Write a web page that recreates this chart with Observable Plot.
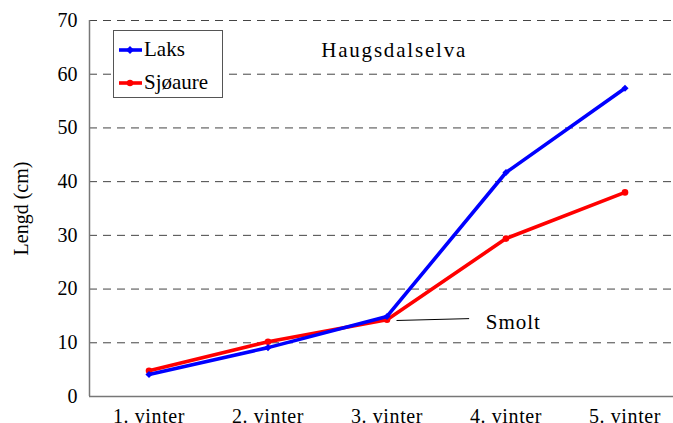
<!DOCTYPE html>
<html><head><meta charset="utf-8">
<script src="https://cdn.jsdelivr.net/npm/d3@7"></script>
<script src="https://cdn.jsdelivr.net/npm/@observablehq/plot@0.6"></script>
<style>
body{margin:0;background:#fff;}
#wrap{position:relative;width:673px;height:423px;overflow:hidden;font-family:"Liberation Serif","Times New Roman",serif;}
#legend{position:absolute;left:113px;top:30px;width:108px;height:66px;border:1px solid #555;background:#fff;font-family:"Liberation Serif","Times New Roman",serif;font-size:21px;line-height:21px;color:#000;}
#legend .row{position:absolute;left:5px;display:flex;align-items:center;}
#legend svg{margin-right:2px;}
</style></head>
<body><div id="wrap"><div id="chart"></div><div id="legend"></div></div>
<script>
const winters = [1, 2, 3, 4, 5];
const tickLabels = ["1. vinter", "2. vinter", "3. vinter", "4. vinter", "5. vinter"];
const laks = [4.1, 9.1, 14.9, 41.7, 57.4];
const sjoaure = [4.8, 10.2, 14.3, 29.4, 38.0];
const seriesNames = ["Laks", "Sjøaure"];
const seriesColors = ["#0000ff", "#ff0000"];
const yTicks = [0, 10, 20, 30, 40, 50, 60, 70];
const title = "Haugsdalselva";
const smoltLabel = "Smolt";

const rows = [];
winters.forEach((w, i) => {
  rows.push({x: w, y: sjoaure[i], s: "Sjøaure"});
  rows.push({x: w, y: laks[i], s: "Laks"});
});
const font = "'Liberation Serif', 'Times New Roman', serif";
const chart = Plot.plot({
  width: 673, height: 423,
  marginLeft: 89, marginRight: -11, marginTop: 20, marginBottom: 27,
  style: {fontFamily: font, fontSize: "20px", color: "#000", background: "#fff", overflow: "visible"},
  x: {domain: [0.5, 5.5], ticks: winters, tickFormat: d => tickLabels[d - 1], tickSize: 0, tickPadding: 12, label: null},
  y: {domain: [0, 70], ticks: yTicks, tickSize: 0, tickPadding: 12, label: "Lengd (cm)", labelAnchor: "center", labelArrow: "none", labelOffset: 76},
  color: {domain: seriesNames, range: seriesColors},
  marks: [
    Plot.ruleY(yTicks.filter(d => d > 0), {stroke: "#444", strokeDasharray: "8,6", strokeWidth: 1}),
    Plot.ruleX([0.5], {stroke: "#777", strokeWidth: 1.5}),
    Plot.ruleY([0], {stroke: "#777", strokeWidth: 1.5}),
    Plot.line(rows.filter(d => d.s === "Sjøaure"), {x: "x", y: "y", stroke: "s", strokeWidth: 3.6}),
    Plot.dot(rows.filter(d => d.s === "Sjøaure"), {x: "x", y: "y", fill: "s", r: 3.3}),
    Plot.line(rows.filter(d => d.s === "Laks"), {x: "x", y: "y", stroke: "s", strokeWidth: 3.6}),
    Plot.dot(rows.filter(d => d.s === "Laks"), {x: "x", y: "y", fill: "s", r: 3.2, symbol: "diamond2"}),
    Plot.link([{x1: 3.08, y1: 14.15, x2: 3.69, y2: 14.5}], {x1: "x1", y1: "y1", x2: "x2", y2: "y2", stroke: "#000", strokeWidth: 1}),
    Plot.text([{x: 3.83, y: 13.8}], {x: "x", y: "y", text: () => smoltLabel, textAnchor: "start", fontSize: 21, fontFamily: font, fill: "#000"}),
    Plot.text([{x: 3.06, y: 64.4}], {x: "x", y: "y", text: () => title, fontSize: 21, fontFamily: font, fill: "#000"})
  ]
});
chart.querySelectorAll("[aria-label='x-axis tick label'] text").forEach(t => t.setAttribute("letter-spacing", "0.6"));
chart.querySelectorAll("[aria-label='text'] text").forEach(t => {
  t.setAttribute("letter-spacing", t.textContent === title ? "1.8" : "1");
});
document.getElementById("chart").appendChild(chart);

const leg = document.getElementById("legend");
seriesNames.forEach((n, i) => {
  const row = document.createElement("div");
  row.className = "row";
  row.style.top = (i === 0 ? 8 : 41) + "px";
  const sym = i === 0
    ? `<polygon points="11,0 15,4 11,8 7,4" fill="${seriesColors[i]}"/>`
    : `<circle cx="11" cy="4" r="3.2" fill="${seriesColors[i]}"/>`;
  row.innerHTML = `<svg width="23" height="8"><line x1="0" y1="4" x2="23" y2="4" stroke="${seriesColors[i]}" stroke-width="3.6"/>${sym}</svg><span>${n}</span>`;
  leg.appendChild(row);
});
</script></body></html>
